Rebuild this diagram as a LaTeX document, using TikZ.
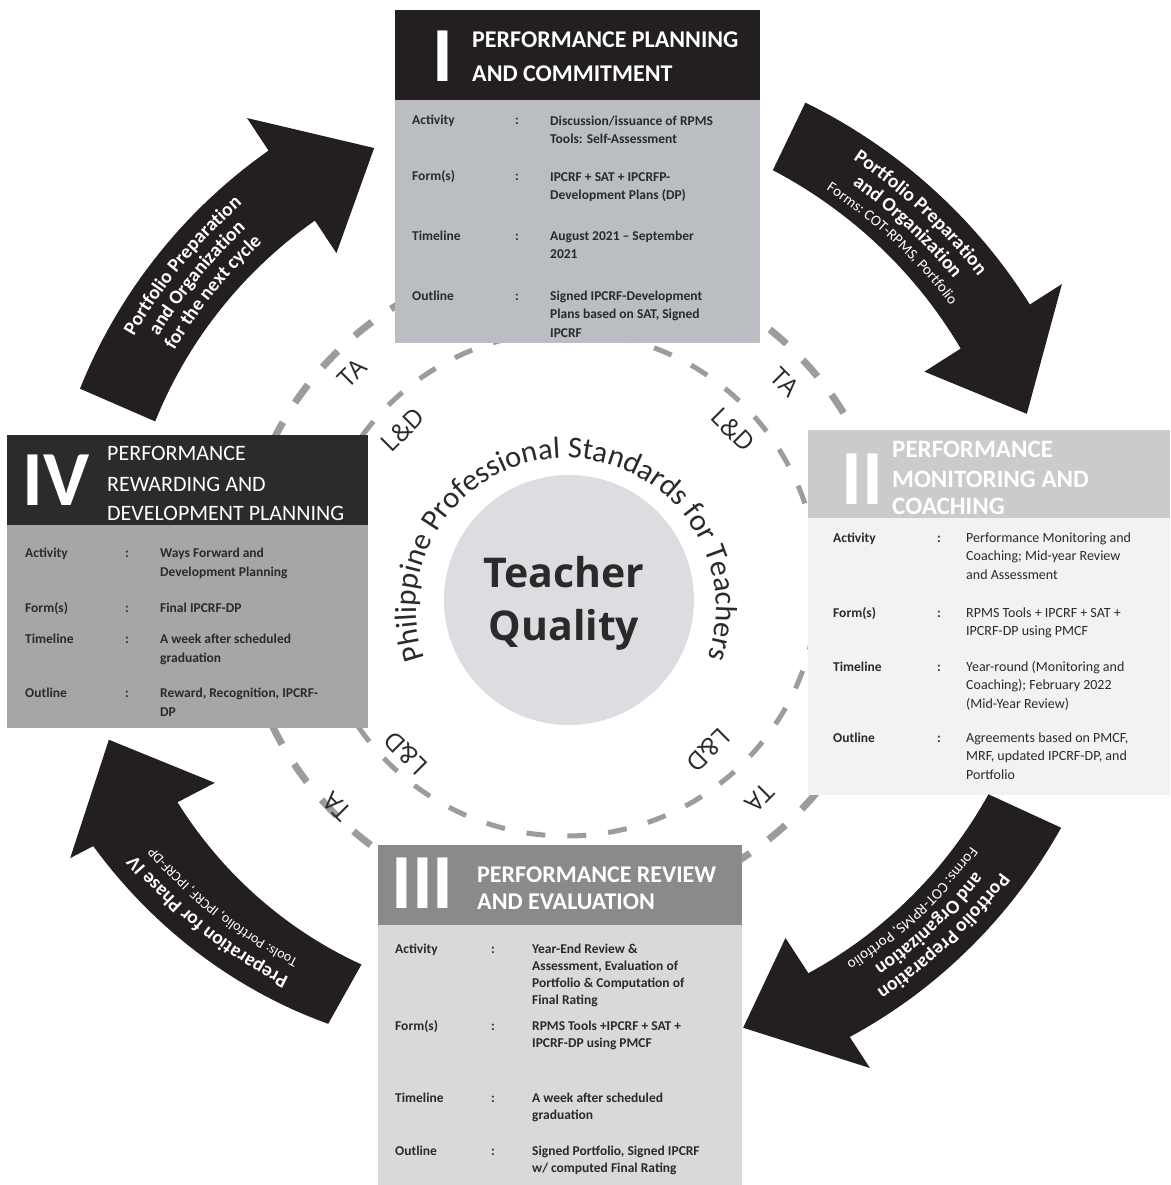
\documentclass[tikz,border=0pt]{standalone}
\usepackage{fontspec}
\setmainfont{Carlito}
\newfontfamily\osans{Open Sans}
\usetikzlibrary{calc,decorations.text}
\definecolor{ink}{HTML}{231F20}
\definecolor{txt}{HTML}{2A2A2A}
\definecolor{hdrI}{HTML}{231F20}
\definecolor{bodyI}{HTML}{BABDC1}
\definecolor{hdrII}{HTML}{CBCBCB}
\definecolor{bodyII}{HTML}{F0F2F4}
\definecolor{hdrIII}{HTML}{8A8A8A}
\definecolor{bodyIII}{HTML}{D9D9D9}
\definecolor{hdrIV}{HTML}{2B2B2B}
\definecolor{bodyIV}{HTML}{A6A6A6}
\definecolor{ringc}{HTML}{9C9C9C}
\definecolor{core}{HTML}{DCDDE0}

\tikzset{
  box/.style={anchor=north west, inner sep=0pt, outer sep=0pt, draw=none},
  numeral/.style={anchor=base west, inner sep=0pt, text=white, font=\bfseries\fontsize{78}{78}\selectfont},
  hdr/.style={anchor=base west, inner sep=0pt, text=white, font=\bfseries\fontsize{24}{24}\selectfont},
  lbl/.style={anchor=base west, inner sep=0pt, text=txt, font=\bfseries\fontsize{13.5}{18}\selectfont},
  vI/.style={inner sep=0pt, text=txt, align=left, font=\bfseries\fontsize{13.5}{18.5}\selectfont},
  vII/.style={inner sep=0pt, text=txt, align=left, font=\fontsize{14}{18.5}\selectfont},
  vIII/.style={inner sep=0pt, text=txt, align=left, font=\bfseries\fontsize{13.5}{17}\selectfont},
  vIV/.style={inner sep=0pt, text=txt, align=left, font=\bfseries\fontsize{13.5}{19}\selectfont},
  ringO/.style={draw=ringc, line width=7pt, dash pattern=on 22pt off 23pt},
  ringI/.style={draw=ringc, line width=5pt, dash pattern=on 19pt off 22pt},
  ringlbl/.style={inner sep=0pt, text=txt, font=\osans\fontsize{25}{25}\selectfont},
  tq/.style={inner sep=0pt, text=txt, font=\osans\bfseries\fontsize{41}{41}\selectfont},
}

\newcommand\brow[9]{%
  \node[lbl] (#1l) at (#3,-#6) {#7};
  \node[lbl] (#1c) at (#4,-#6) {:};
  \node[#2, anchor=north west] (#1v) at (#5,{-#6+0.7*#9}) {\strut #8};
}
% spiral-ish arrow: radii interpolate linearly from angle \ra to \rb
\newcommand\cyclearrow{%
  \fill[ink] plot[domain=\ra:\rb, samples=30, variable=\t]
      ({566+(\routa+(\routb-\routa)*(\t-(\ra))/(\rb-(\ra)))*cos(\t)},
       {-600+(\routa+(\routb-\routa)*(\t-(\ra))/(\rb-(\ra)))*sin(\t)})
    -- ($(C)+(\rb:\rhout)$) -- ($(C)+(\tipa:\tipr)$) -- ($(C)+(\rb:\rhin)$)
    -- plot[domain=\rb:\ra, samples=30, variable=\t]
      ({566+(\rina+(\rinb-\rina)*(\t-(\ra))/(\rb-(\ra)))*cos(\t)},
       {-600+(\rina+(\rinb-\rina)*(\t-(\ra))/(\rb-(\ra)))*sin(\t)})
    -- cycle;}
\newcommand\arctext[5]{%
  \path[decorate, decoration={text along path, text align=center, text={|#4|#5}}]
    plot[domain=#2:#3, samples=40, variable=\t]
      ({566+(\routa+(\routb-\routa)*(\t-(\ra))/(\rb-(\ra))-#1)*cos(\t)},
       {-600+(\routa+(\routb-\routa)*(\t-(\ra))/(\rb-(\ra))-#1)*sin(\t)});}
\newcommand\atmain{\color{white}\bfseries\fontsize{19.5}{19.5}\selectfont}
\newcommand\atsub{\color{white}\fontsize{15}{15}\selectfont}
\newcommand\atsmall{\color{white}\fontsize{14}{14}\selectfont}

\begin{document}
\begin{tikzpicture}[x=1pt,y=1pt]
\useasboundingbox (0,0) rectangle (1170,-1185);
\fill[white] (0,0) rectangle (1170,-1185);
\coordinate (C) at (566,-600);
\coordinate (R) at (566,-584);
\coordinate (T) at (566,-608);

% dashed rings
\draw[ringO] (R) circle[radius=326pt];
\draw[ringI] (R) circle[radius=252pt];

% core
\node[circle, fill=core, minimum size=250pt, inner sep=0pt] (core) at (569,-600) {};
\node[tq, anchor=base] (tq1) at (564,-587) {Teacher};
\node[tq, anchor=base] (tq2) at (564,-640) {Quality};
\path[decorate, decoration={text along path, text align=center,
  text={|\fontsize{30.5}{30.5}\selectfont\color{txt}|Philippine Professional Standards for Teachers}}]
  ($(T)+(210:150pt)$) arc[start angle=210, end angle=-30, radius=150pt];

% ring labels
\node[ringlbl, rotate=45] (ta1) at (352,-373) {TA};
\node[ringlbl, rotate=-45] (ta2) at (785,-382) {TA};
\node[ringlbl, rotate=-135] (ta3) at (760,-798) {TA};
\node[ringlbl, rotate=135] (ta4) at (337,-807) {TA};
\node[ringlbl, rotate=45] (ld1) at (403,-430) {L\&D};
\node[ringlbl, rotate=-45] (ld2) at (733,-430) {L\&D};
\node[ringlbl, rotate=-135] (ld3) at (708,-750) {L\&D};
\node[ringlbl, rotate=135] (ld4) at (406,-753) {L\&D};

% ---------- Box I ----------
\node[box, fill=bodyI, minimum width=365pt, minimum height=333pt] (bI) at (395,-10) {};
\node[box, fill=hdrI, minimum width=365pt, minimum height=90pt] (hI) at (395,-10) {};
\node[numeral] (nI) at (432,-82) {I};
\node[hdr] (tI1) at (472,-48) {PERFORMANCE PLANNING};
\node[hdr] (tI2) at (472,-82) {AND COMMITMENT};
\brow{aI}{vI}{412}{515}{550}{125}{Activity}{Discussion/issuance of RPMS\\Tools: Self-Assessment}{18.5}
\brow{fI}{vI}{412}{515}{550}{181}{Form(s)}{IPCRF + SAT + IPCRFP-\\Development Plans (DP)}{18.5}
\brow{tI}{vI}{412}{515}{550}{240}{Timeline}{August 2021 -- September\\2021}{18.5}
\brow{oI}{vI}{412}{515}{550}{300}{Outline}{Signed IPCRF-Development\\Plans based on SAT, Signed\\IPCRF}{18.5}

% ---------- Box II ----------
\node[box, fill=bodyII, minimum width=362pt, minimum height=365pt] (bII) at (808,-430) {};
\node[box, fill=hdrII, minimum width=362pt, minimum height=88pt] (hII) at (808,-430) {};
\node[numeral] (nII) at (841,-504) {II};
\node[hdr, font=\bfseries\fontsize{25}{25}\selectfont] (tII1) at (892,-457) {PERFORMANCE};
\node[hdr, font=\bfseries\fontsize{25}{25}\selectfont] (tII2) at (892,-487) {MONITORING AND};
\node[hdr, font=\bfseries\fontsize{25}{25}\selectfont] (tII3) at (892,-514) {COACHING};
\brow{aII}{vII}{833}{937}{966}{542}{Activity}{Performance Monitoring and\\Coaching; Mid-year Review\\and Assessment}{18.5}
\brow{fII}{vII}{833}{937}{966}{617}{Form(s)}{RPMS Tools + IPCRF + SAT +\\IPCRF-DP using PMCF}{18.5}
\brow{tII}{vII}{833}{937}{966}{671}{Timeline}{Year-round (Monitoring and\\Coaching); February 2022\\(Mid-Year Review)}{18.5}
\brow{oII}{vII}{833}{937}{966}{742}{Outline}{Agreements based on PMCF,\\MRF, updated IPCRF-DP, and\\Portfolio}{18.5}

% ---------- Box III ----------
\node[box, fill=bodyIII, minimum width=364pt, minimum height=340pt] (bIII) at (378,-845) {};
\node[box, fill=hdrIII, minimum width=364pt, minimum height=80pt] (hIII) at (378,-845) {};
\node[numeral] (nIII) at (391,-908) {III};
\node[hdr] (tIII1) at (477,-882) {PERFORMANCE REVIEW};
\node[hdr] (tIII2) at (477,-909) {AND EVALUATION};
\brow{aIII}{vIII}{395}{491}{532}{953}{Activity}{Year-End Review \&\\Assessment, Evaluation of\\Portfolio \& Computation of\\Final Rating}{17}
\brow{fIII}{vIII}{395}{491}{532}{1030}{Form(s)}{RPMS Tools +IPCRF + SAT +\\IPCRF-DP using PMCF}{17}
\brow{tIII}{vIII}{395}{491}{532}{1102}{Timeline}{A week after scheduled\\graduation}{17}
\brow{oIII}{vIII}{395}{491}{532}{1155}{Outline}{Signed Portfolio, Signed IPCRF\\w/ computed Final Rating}{17}

% ---------- Box IV ----------
\node[box, fill=bodyIV, minimum width=361pt, minimum height=293pt] (bIV) at (7,-435) {};
\node[box, fill=hdrIV, minimum width=361pt, minimum height=90pt] (hIV) at (7,-435) {};
\node[numeral] (nIV) at (22,-505) {IV};
\node[hdr, font=\fontsize{22}{22}\selectfont] (tIV1) at (107,-460) {PERFORMANCE};
\node[hdr, font=\fontsize{22}{22}\selectfont] (tIV2) at (107,-491) {REWARDING AND};
\node[hdr, font=\fontsize{22}{22}\selectfont] (tIV3) at (107,-520) {DEVELOPMENT PLANNING};
\brow{aIV}{vIV}{25}{125}{160}{557}{Activity}{Ways Forward and\\Development Planning}{19}
\brow{fIV}{vIV}{25}{125}{160}{612}{Form(s)}{Final IPCRF-DP}{19}
\brow{tIV}{vIV}{25}{125}{160}{643}{Timeline}{A week after scheduled\\graduation}{19}
\brow{oIV}{vIV}{25}{125}{160}{697}{Outline}{Reward, Recognition, IPCRF-\\DP}{19}

% ---------- cycle arrows ----------
% TL: IV -> I
\def\ra{156.5}\def\rb{123.5}\def\routa{530}\def\routb{539}\def\rina{448}\def\rinb{455}
\def\rhin{416pt}\def\rhout{578pt}\def\tipa{113}\def\tipr{491pt}
\cyclearrow
\arctext{26}{158}{120}{\atmain}{Portfolio Preparation}
\arctext{47}{158}{120}{\atmain}{and Organization}
\arctext{68}{158}{120}{\atmain}{for the next cycle}
% TR: I -> II
\def\ra{64.3}\def\rb{32.5}\def\routa{552}\def\routb{550}\def\rina{477}\def\rinb{468}
\def\rhin{425pt}\def\rhout{588pt}\def\tipa{22}\def\tipr{497pt}
\cyclearrow
\arctext{26}{66}{29}{\atmain}{Portfolio Preparation}
\arctext{47}{66}{29}{\atmain}{and Organization}
\arctext{66}{66}{29}{\atsub}{Forms: COT-RPMS, Portfolio}
% BR: II -> III
\def\ra{-24.7}\def\rb{-57}\def\routa{545}\def\routb{521}\def\rina{465}\def\rinb{445}
\def\rhin{403pt}\def\rhout{558pt}\def\tipa{-67.5}\def\tipr{463pt}
\cyclearrow
\arctext{26}{-23}{-61}{\atmain}{Portfolio Preparation}
\arctext{47}{-23}{-61}{\atmain}{and Organization}
\arctext{66}{-23}{-61}{\atsub}{Forms: COT-RPMS, Portfolio}
% BL: III -> IV
\def\ra{240.7}\def\rb{207.5}\def\routa{486}\def\routb{533}\def\rina{418}\def\rinb{438}
\def\rhin{396pt}\def\rhout{559pt}\def\tipa{197}\def\tipr{478pt}
\cyclearrow
\arctext{28}{242}{203}{\atmain}{Preparation for Phase IV}
\arctext{48}{242}{203}{\atsmall}{Tools: Portfolio, IPCRF, IPCRF-DP}
\end{tikzpicture}
\end{document}
